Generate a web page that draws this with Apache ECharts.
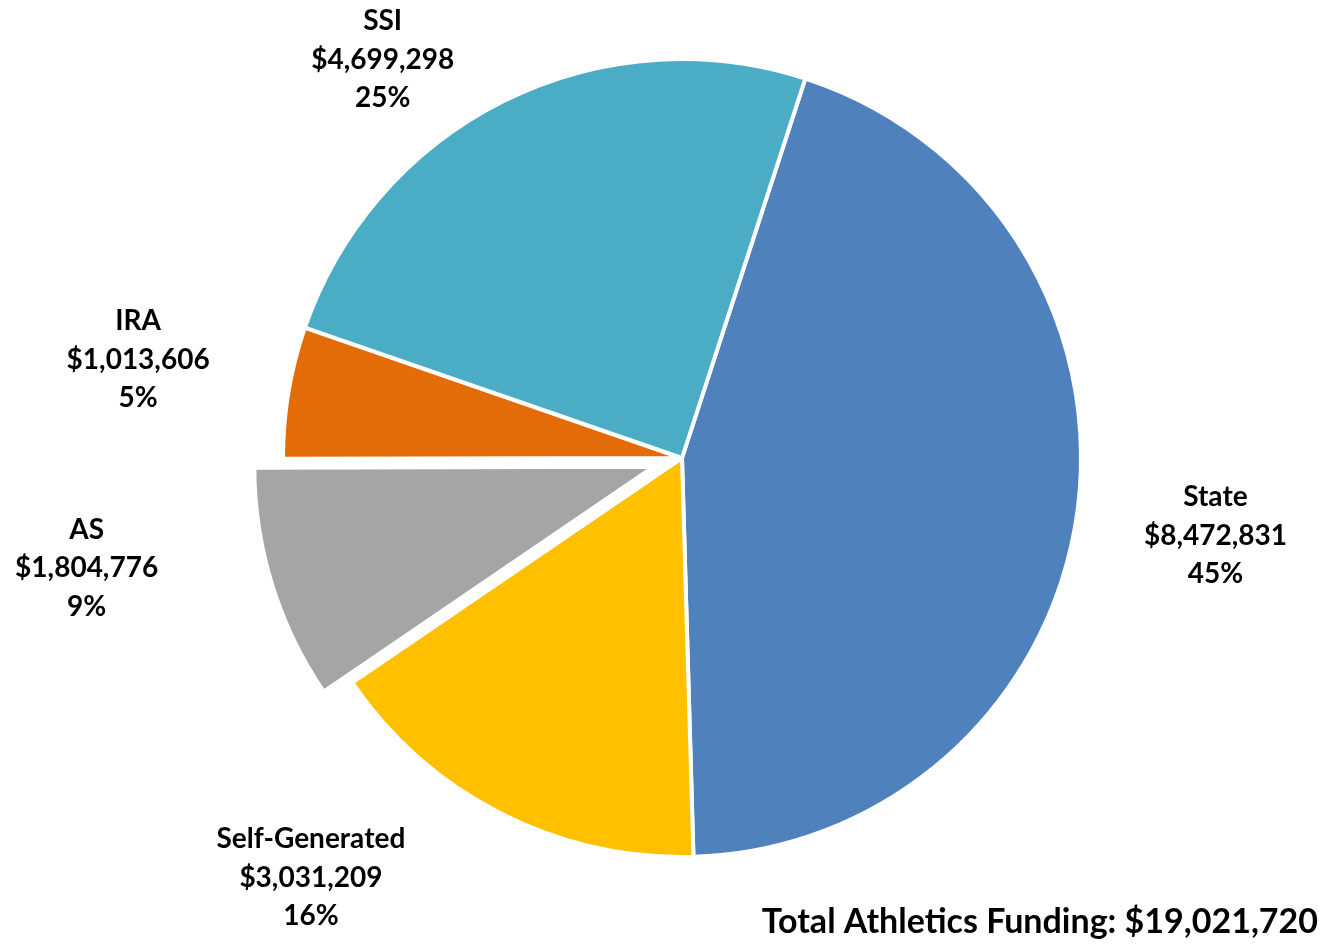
<!DOCTYPE html>
<html><head><meta charset="utf-8">
<script src="https://cdn.jsdelivr.net/npm/echarts@6/dist/echarts.min.js"></script>
<style>html,body{margin:0;padding:0;background:#fff}#c{width:1325px;height:944px}</style>
</head><body><div id="c"></div>
<script>
const categories = ['State', 'Self-Generated', 'AS', 'IRA', 'SSI'];
const values = [8472831, 3031209, 1804776, 1013606, 4699298];
const percents = ['45%', '16%', '9%', '5%', '25%'];
const colors = ['#4F81BD', '#FFC000', '#A5A5A5', '#E36C09', '#4BACC6'];
const totalText = 'Total Athletics Funding: $19,021,720';

// label leader lengths (hidden lines) used only to place the outside labels
const labelLen = { 'State': [149, -9], 'Self-Generated': [72, 157], 'AS': [-57, 240], 'IRA': [197, -44], 'SSI': [46, 101] };

const fmt = v => '$' + v.toLocaleString('en-US');
const chart = echarts.init(document.getElementById('c'));
chart.setOption({
  animation: false,
  graphic: [{
    type: 'text', right: 7, bottom: 5,
    style: { text: totalText, font: 'bold 34px Lato', fill: '#000' }
  }],
  series: [{
    type: 'pie',
    center: [682, 458],
    radius: 399,
    startAngle: 72,
    clockwise: true,
    selectedMode: 'single',
    selectedOffset: 30,
    avoidLabelOverlap: false,
    itemStyle: { borderColor: '#fff', borderWidth: 4 },
    label: {
      show: true, position: 'outside', distanceToLabelLine: 0,
      fontFamily: 'Lato', fontWeight: 'bold', fontSize: 28, lineHeight: 38.5,
      color: '#000',
      formatter: p => p.name + '\n' + fmt(p.value) + '\n' + percents[p.dataIndex]
    },
    labelLine: { show: false },
    labelLayout: () => ({ align: 'center', verticalAlign: 'middle' }),
    data: categories.map((c, i) => ({
      name: c, value: values[i], selected: c === 'AS',
      itemStyle: { color: colors[i] },
      labelLine: { show: false, length: labelLen[c][0], length2: labelLen[c][1] }
    }))
  }]
});
</script></body></html>
